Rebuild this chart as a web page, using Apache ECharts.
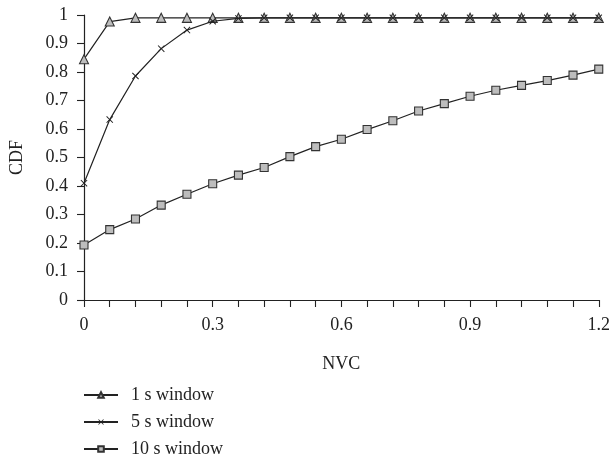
<!DOCTYPE html>
<html>
<head>
<meta charset="utf-8">
<script src="https://cdn.jsdelivr.net/npm/echarts@6/dist/echarts.min.js"></script>
<style>
  html, body { margin: 0; padding: 0; background: #fff; }
  #chart { width: 613px; height: 460px; }
</style>
</head>
<body>
<div id="chart"></div>
<script>
// NVC sample points (every 0.06)
const nvc = [0, 0.06, 0.12, 0.18, 0.24, 0.3, 0.36, 0.42, 0.48, 0.54, 0.6,
  0.66, 0.72, 0.78, 0.84, 0.9, 0.96, 1.02, 1.08, 1.14, 1.2];

const win1s = [0.845, 0.977, 0.99, 0.99, 0.99, 0.99, 0.99, 0.99, 0.99, 0.99, 0.99,
  0.99, 0.99, 0.99, 0.99, 0.99, 0.99, 0.99, 0.99, 0.99, 0.99];
const win5s = [0.41, 0.633, 0.786, 0.882, 0.947, 0.978, 0.988, 0.99, 0.99, 0.99, 0.99,
  0.99, 0.99, 0.99, 0.99, 0.99, 0.99, 0.99, 0.99, 0.99, 0.99];
const win10s = [0.193, 0.247, 0.284, 0.333, 0.371, 0.408, 0.438, 0.465, 0.503, 0.538, 0.564,
  0.598, 0.629, 0.663, 0.689, 0.715, 0.736, 0.753, 0.77, 0.789, 0.81];

const seriesNames = ["1 s window", "5 s window", "10 s window"];

const FONT = "Liberation Serif";
const INK = "#222";
const crossPath = "path://M0,1 L1,0 L5,4 L9,0 L10,1 L6,5 L10,9 L9,10 L5,6 L1,10 L0,9 L4,5 Z";

const chart = echarts.init(document.getElementById("chart"));

function pairs(ys) {
  return nvc.map((x, i) => [x, ys[i]]);
}

function makeSeries(name, ys, symbol, size, z) {
  const isCross = symbol === crossPath;
  return {
    name: name,
    type: "line",
    data: pairs(ys),
    symbol: symbol,
    symbolSize: size,
    showAllSymbol: true,
    z: z,
    lineStyle: { color: INK, width: 1.2 },
    itemStyle: {
      color: isCross ? INK : "#bdbdbd",
      borderColor: isCross ? INK : "#333",
      borderWidth: isCross ? 0 : 1.1,
    },
    emphasis: { disabled: true },
    animation: false,
  };
}

chart.setOption({
  animation: false,
  textStyle: { fontFamily: FONT, color: INK },
  grid: { left: 83, right: 13, top: 15, bottom: 160 },
  legend: {
    orient: "vertical",
    left: 78,
    top: 380,
    padding: [5, 5, 0, 5],
    itemGap: 7,
    itemWidth: 34,
    itemHeight: 7,
    textStyle: { fontFamily: FONT, fontSize: 18, lineHeight: 20, color: INK, padding: [0, 0, 0, 8] },
    data: seriesNames,
  },
  xAxis: {
    type: "value",
    min: 0,
    max: 1.2,
    interval: 0.3,
    name: "NVC",
    nameLocation: "middle",
    nameGap: 55,
    nameTextStyle: { fontFamily: FONT, fontSize: 18, color: INK },
    axisLine: { lineStyle: { color: INK, width: 1.2 } },
    axisTick: { show: true, length: 7, lineStyle: { color: INK, width: 1.1 } },
    minorTick: { show: true, splitNumber: 5, length: 7, lineStyle: { color: INK, width: 1.1 } },
    axisLabel: { fontFamily: FONT, fontSize: 18, color: INK, margin: 16 },
    splitLine: { show: false },
    minorSplitLine: { show: false },
  },
  yAxis: {
    type: "value",
    min: 0,
    max: 1,
    interval: 0.1,
    name: "CDF",
    nameLocation: "middle",
    nameGap: 58,
    nameRotate: 90,
    nameTextStyle: { fontFamily: FONT, fontSize: 18, color: INK },
    axisLine: { show: true, lineStyle: { color: INK, width: 1.2 } },
    axisTick: { show: true, length: 7, lineStyle: { color: INK, width: 1.1 } },
    axisLabel: { fontFamily: FONT, fontSize: 18, color: INK, margin: 16 },
    splitLine: { show: false },
  },
  series: [
    makeSeries(seriesNames[0], win1s, "triangle", 9, 2),
    makeSeries(seriesNames[1], win5s, crossPath, 7, 3),
    makeSeries(seriesNames[2], win10s, "rect", 8, 4),
  ],
});
</script>
</body>
</html>
